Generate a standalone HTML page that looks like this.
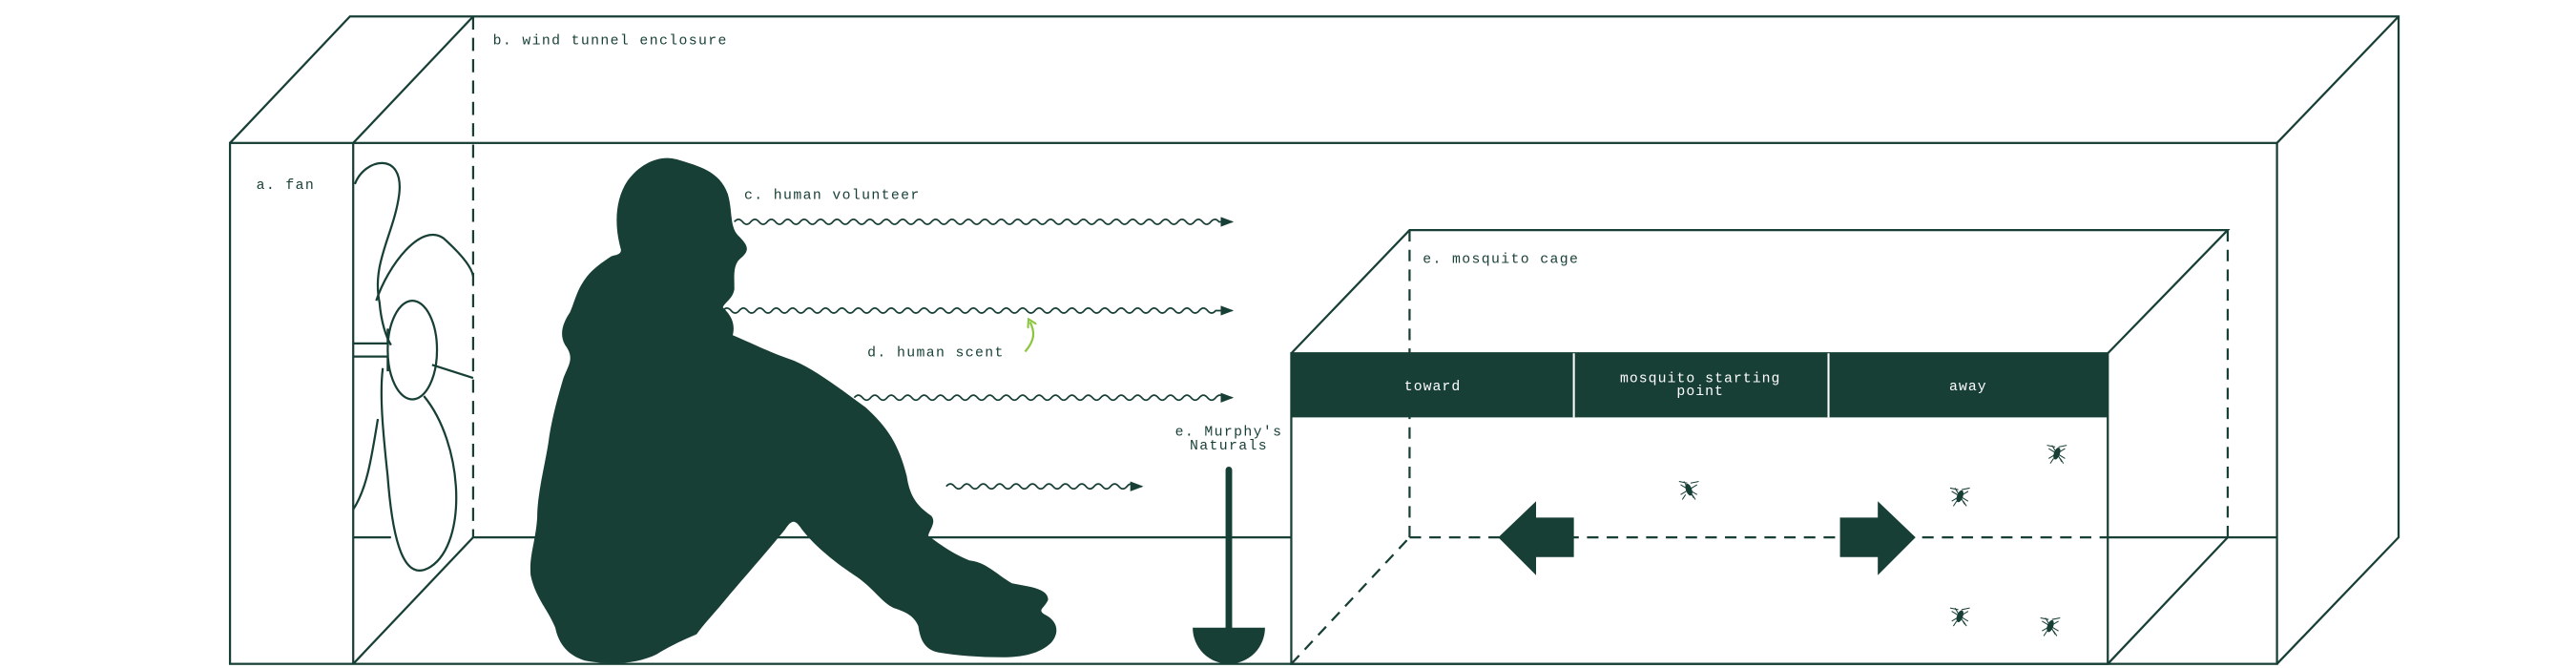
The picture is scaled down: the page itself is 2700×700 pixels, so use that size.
<!DOCTYPE html>
<html><head><meta charset="utf-8"><style>html,body{margin:0;padding:0;background:#fff}svg{display:block}</style></head>
<body>
<svg width="2700" height="700" viewBox="0 0 1568 406.5" xmlns="http://www.w3.org/2000/svg">
<defs><marker id="ah" markerWidth="8" markerHeight="6" refX="7" refY="3" orient="auto" markerUnits="userSpaceOnUse"><path d="M0,0 L8,3 L0,6 Z" fill="#173f35"/></marker>
<marker id="gh" markerWidth="6" markerHeight="6" refX="3" refY="3" orient="auto" markerUnits="userSpaceOnUse"><path d="M0,0 L5,3 L0,6" fill="none" stroke="#8cc63f" stroke-width="1.2"/></marker></defs>
<g fill="none" stroke="#173f35" stroke-width="1.3">
<rect x="140" y="87" width="1246" height="317"/>
<line x1="215" y1="87" x2="215" y2="404"/>
<polyline points="140,87 213,10 1460,10 1460,327 1386,404"/>
<line x1="215" y1="87" x2="288" y2="10"/>
<line x1="1386" y1="87" x2="1460" y2="10"/>
<line x1="288" y1="10" x2="288" y2="327" stroke-dasharray="8,5"/>
<polyline points="215,404 288,327 786,327"/>
<line x1="1283" y1="327" x2="1386" y2="327"/>
<line x1="215" y1="327" x2="238" y2="327"/>
<ellipse cx="251" cy="213" rx="15" ry="30"/>
<polyline points="215,209 236,209 236,200"/>
<polyline points="215,217 236,217 236,226"/>
<path d="M216,112 C222,96 246,92 243,118 C240,142 226,160 231,184 C232,196 235,205 238,210"/>
<path d="M229,183 C236,162 256,135 270,145 C280,154 287,162 288,168"/>
<path d="M263,222 L288,230"/>
<path d="M258,241 C282,270 285,330 262,345 C246,355 239,330 236,290 C233,262 231,240 233,224"/>
<path d="M230,255 C226,280 223,298 215,310"/>
<rect x="786" y="215" width="497" height="189"/>
<polyline points="786,215 858,140 1356,140 1283,215"/>
<line x1="1283" y1="404" x2="1356" y2="327"/>
<g stroke-dasharray="7,5">
<line x1="858" y1="140" x2="858" y2="327"/>
<line x1="1356" y1="140" x2="1356" y2="327"/>
<line x1="858" y1="327" x2="1283" y2="327"/>
<line x1="786" y1="404" x2="858" y2="327"/>
</g>
<path d="M447,135 q2.5,-3 5,0 t5,0 t5,0 t5,0 t5,0 t5,0 t5,0 t5,0 t5,0 t5,0 t5,0 t5,0 t5,0 t5,0 t5,0 t5,0 t5,0 t5,0 t5,0 t5,0 t5,0 t5,0 t5,0 t5,0 t5,0 t5,0 t5,0 t5,0 t5,0 t5,0 t5,0 t5,0 t5,0 t5,0 t5,0 t5,0 t5,0 t5,0 t5,0 t5,0 t5,0 t5,0 t5,0 t5,0 t5,0 t5,0 t5,0 t5,0 t5,0 t5,0 t5,0 t5,0 t5,0 t5,0 t5,0 t5,0 t5,0 t5,0 t5,0 L750,135" stroke-width="1" marker-end="url(#ah)"/>
<path d="M440,189 q2.5,-3 5,0 t5,0 t5,0 t5,0 t5,0 t5,0 t5,0 t5,0 t5,0 t5,0 t5,0 t5,0 t5,0 t5,0 t5,0 t5,0 t5,0 t5,0 t5,0 t5,0 t5,0 t5,0 t5,0 t5,0 t5,0 t5,0 t5,0 t5,0 t5,0 t5,0 t5,0 t5,0 t5,0 t5,0 t5,0 t5,0 t5,0 t5,0 t5,0 t5,0 t5,0 t5,0 t5,0 t5,0 t5,0 t5,0 t5,0 t5,0 t5,0 t5,0 t5,0 t5,0 t5,0 t5,0 t5,0 t5,0 t5,0 t5,0 t5,0 t5,0 L750,189" stroke-width="1" marker-end="url(#ah)"/>
<path d="M520,242 q2.5,-3 5,0 t5,0 t5,0 t5,0 t5,0 t5,0 t5,0 t5,0 t5,0 t5,0 t5,0 t5,0 t5,0 t5,0 t5,0 t5,0 t5,0 t5,0 t5,0 t5,0 t5,0 t5,0 t5,0 t5,0 t5,0 t5,0 t5,0 t5,0 t5,0 t5,0 t5,0 t5,0 t5,0 t5,0 t5,0 t5,0 t5,0 t5,0 t5,0 t5,0 t5,0 t5,0 t5,0 t5,0 t5,0 L750,242" stroke-width="1" marker-end="url(#ah)"/>
<path d="M576,296 q2.5,-3 5,0 t5,0 t5,0 t5,0 t5,0 t5,0 t5,0 t5,0 t5,0 t5,0 t5,0 t5,0 t5,0 t5,0 t5,0 t5,0 t5,0 t5,0 t5,0 t5,0 t5,0 t5,0 t5,0 L695,296" stroke-width="1" marker-end="url(#ah)"/>
<path d="M624,214 C630,207 630,202 627,196" stroke="#8cc63f" stroke-width="1.3" marker-end="url(#gh)"/>
</g>
<rect x="786" y="215" width="497" height="39" fill="#173f35"/>
<line x1="958" y1="215" x2="958" y2="254" stroke="#fff" stroke-width="1.2"/>
<line x1="1113" y1="215" x2="1113" y2="254" stroke="#fff" stroke-width="1.2"/>
<path d="M912,327 L935,305 L935,315 L958,315 L958,339 L935,339 L935,350 Z" fill="#173f35"/>
<path d="M1166,327 L1143,305 L1143,315 L1120,315 L1120,339 L1143,339 L1143,350 Z" fill="#173f35"/>
<line x1="748" y1="286" x2="748" y2="383" stroke="#173f35" stroke-width="4" stroke-linecap="round"/>
<path d="M726,382 L770,382 A22,22 0 0 1 726,382 Z" fill="#173f35"/>
<path fill="#173f35" d="M378,152 C374,138 374,122 382,110 C390,99 402,94 412,97 C425,101 438,104 443,118 C446,128 444,137 449,143 C455,149 457,152 451,157 C446,161 447,168 447,176 C446,182 441,184 440,187 C444,191 448,196 446,204 C460,210 470,215 482,219 C495,224 512,237 527,248 C540,260 547,270 552,290 C554,304 560,309 567,314 C570,318 566,322 565,326 C572,331 578,336 590,341 C600,342 606,349 616,355 C626,357 638,358 638,365 C636,370 631,371 636,374 C644,378 645,385 640,391 C633,398 622,400 610,400 C596,400 583,399 571,397 C562,395 560,388 559,381 C556,374 550,372 544,370 C536,366 531,357 520,350 C505,340 494,330 488,322 C484,316 482,316 478,322 C470,332 456,348 444,362 C436,372 429,379 424,386 C417,389 410,392 400,398 C388,404 372,405 356,402 C346,399 340,392 338,382 C333,370 326,364 323,350 C322,338 326,330 327,315 C327,300 332,282 334,268 C336,254 340,240 343,230 C346,222 350,218 344,210 C340,203 343,196 347,190 C350,183 351,177 356,170 C360,164 366,160 372,156 C375,155 378,155 378,152 Z"/>
<g stroke="#173f35" stroke-width="0.6" fill="#173f35">
<g transform="translate(1028,298)"><ellipse rx="1.5" ry="3.5" transform="rotate(-20)"/><path d="M-5,-3 L5,3 M-5,3 L5,-3 M-3,-5 L3,5 M-1,-4 L-6,-5 M1,-4 L6,-5 M-2,3 L-4,6 M2,3 L4,6" fill="none"/></g>
<g transform="translate(1193,302)"><ellipse rx="1.5" ry="3.5" transform="rotate(20)"/><path d="M-5,-3 L5,3 M-5,3 L5,-3 M-3,-5 L3,5 M-1,-4 L-6,-5 M1,-4 L6,-5 M-2,3 L-4,6 M2,3 L4,6" fill="none"/></g>
<g transform="translate(1252,276)"><ellipse rx="1.5" ry="3.5" transform="rotate(20)"/><path d="M-5,-3 L5,3 M-5,3 L5,-3 M-3,-5 L3,5 M-1,-4 L-6,-5 M1,-4 L6,-5 M-2,3 L-4,6 M2,3 L4,6" fill="none"/></g>
<g transform="translate(1193,375)"><ellipse rx="1.5" ry="3.5" transform="rotate(20)"/><path d="M-5,-3 L5,3 M-5,3 L5,-3 M-3,-5 L3,5 M-1,-4 L-6,-5 M1,-4 L6,-5 M-2,3 L-4,6 M2,3 L4,6" fill="none"/></g>
<g transform="translate(1248,381)"><ellipse rx="1.5" ry="3.5" transform="rotate(20)"/><path d="M-5,-3 L5,3 M-5,3 L5,-3 M-3,-5 L3,5 M-1,-4 L-6,-5 M1,-4 L6,-5 M-2,3 L-4,6 M2,3 L4,6" fill="none"/></g>
</g>
<g font-family="'Liberation Mono', monospace" font-size="8.6" letter-spacing="0.8" fill="#173f35">
<text x="156" y="115">a. fan</text>
<text x="300" y="27">b. wind tunnel enclosure</text>
<text x="453" y="121">c. human volunteer</text>
<text x="528" y="217">d. human scent</text>
<text x="866" y="160">e. mosquito cage</text>
<text x="748" y="265" text-anchor="middle">e. Murphy's</text>
<text x="748" y="273.5" text-anchor="middle">Naturals</text>
</g>
<g font-family="'Liberation Mono', monospace" font-size="8.6" letter-spacing="0.6" fill="#fff" text-anchor="middle">
<text x="872" y="237.5">toward</text>
<text x="1035" y="232.5">mosquito starting</text>
<text x="1035" y="240.5">point</text>
<text x="1198" y="237.5">away</text>
</g>
</svg>
</body></html>
